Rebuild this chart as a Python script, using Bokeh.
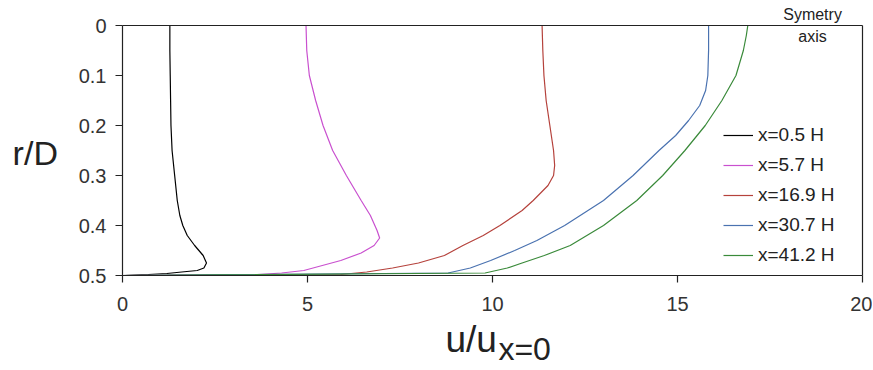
from bokeh.plotting import figure
from bokeh.models import Range1d, FixedTicker, Label, Legend, LegendItem, LinearAxis
from bokeh.embed import file_html
from bokeh.resources import INLINE

# ---- data: radial position r/D and velocity ratio u/u_x=0 ----
r_black = [0, 0.05, 0.1, 0.15, 0.2, 0.25, 0.3, 0.35, 0.38, 0.40, 0.42, 0.44, 0.46, 0.475, 0.485, 0.49, 0.493, 0.496, 0.498, 0.5]
u_black = [1.28, 1.28, 1.29, 1.30, 1.31, 1.34, 1.41, 1.48, 1.55, 1.63, 1.75, 1.95, 2.18, 2.27, 2.2, 2.02, 1.6, 1.2, 0.7, 0]

r_magenta = [0, 0.05, 0.1, 0.15, 0.2, 0.25, 0.3, 0.35, 0.38, 0.41, 0.425, 0.44, 0.455, 0.47, 0.48, 0.49, 0.495, 0.499, 0.5]
u_magenta = [4.96, 4.98, 5.05, 5.22, 5.42, 5.68, 6.05, 6.45, 6.7, 6.88, 6.95, 6.8, 6.45, 5.9, 5.4, 4.9, 4.3, 3.5, 0]

r_red = [0, 0.05, 0.1, 0.15, 0.2, 0.25, 0.28, 0.3, 0.32, 0.335, 0.35, 0.37, 0.4, 0.42, 0.44, 0.46, 0.475, 0.485, 0.493, 0.498, 0.5]
u_red = [11.34, 11.36, 11.39, 11.45, 11.55, 11.65, 11.68, 11.65, 11.5, 11.3, 11.1, 10.8, 10.2, 9.75, 9.2, 8.7, 8.0, 7.3, 6.6, 5.9, 0]

r_blue = [0, 0.05, 0.1, 0.13, 0.16, 0.19, 0.22, 0.25, 0.3, 0.35, 0.4, 0.43, 0.45, 0.47, 0.485, 0.495, 0.5]
u_blue = [15.84, 15.84, 15.82, 15.76, 15.6, 15.3, 14.95, 14.5, 13.8, 13.0, 11.95, 11.2, 10.6, 9.95, 9.4, 8.8, 0]

r_green = [0, 0.02, 0.05, 0.1, 0.15, 0.2, 0.25, 0.3, 0.35, 0.4, 0.44, 0.46, 0.475, 0.485, 0.495, 0.5]
u_green = [16.9, 16.86, 16.78, 16.58, 16.2, 15.75, 15.2, 14.6, 13.9, 13.0, 12.1, 11.4, 10.8, 10.4, 9.8, 0]

series_names = ["x=0.5 H", "x=5.7 H", "x=16.9 H", "x=30.7 H", "x=41.2 H"]
series_colors = ["#000000", "#c950cf", "#b5423c", "#4a72b0", "#3a8a3a"]

x_ticks = [0, 5, 10, 15, 20]
y_ticks = [0, 0.1, 0.2, 0.3, 0.4, 0.5]
y_tick_labels = ["0", "0.1", "0.2", "0.3", "0.4", "0.5"]
x_min, x_max = 0, 20
r_min, r_max = 0, 0.5

FONT = "Liberation Sans"
AX = "#222222"
W, H = 872, 369
PX_X = 37.0     # pixels per unit of u/u0
PX_Y = 500.0    # pixels per unit of r/D
LEFT, TOP = 122, 25

# the frame fills the whole canvas; axes are pinned at data locations
p = figure(width=W, height=H, output_backend="svg", toolbar_location=None,
           x_range=Range1d(-LEFT / PX_X, (W - LEFT) / PX_X),
           y_range=Range1d((H - TOP) / PX_Y, -TOP / PX_Y),
           min_border=0, min_border_left=0, min_border_right=0,
           min_border_top=0, min_border_bottom=0)

p.xgrid.visible = False
p.ygrid.visible = False
p.outline_line_color = None
p.background_fill_color = "white"
p.border_fill_color = "white"

def style_axis(ax):
    ax.axis_line_color = AX
    ax.axis_line_width = 1.2
    ax.major_tick_line_color = AX
    ax.major_tick_line_width = 1.2
    ax.major_tick_out = 7
    ax.major_tick_in = 0
    ax.minor_tick_line_color = None
    ax.major_label_text_font = FONT
    ax.major_label_text_font_size = "20px"
    ax.major_label_text_color = "#333333"

xa = p.xaxis[0]
ya = p.yaxis[0]
style_axis(xa)
style_axis(ya)
xa.fixed_location = r_max
xa.bounds = (x_min, x_max)
xa.ticker = FixedTicker(ticks=x_ticks)
xa.major_label_standoff = 14
ya.fixed_location = x_min
ya.bounds = (r_min, r_max)
ya.ticker = FixedTicker(ticks=y_ticks)
ya.major_label_overrides = {t: l for t, l in zip(y_ticks, y_tick_labels)}
ya.major_label_standoff = 9

# top and right edges of the plot box
top_ax = LinearAxis(fixed_location=r_min, bounds=(x_min, x_max), ticker=FixedTicker(ticks=[]),
                    axis_line_color=AX, axis_line_width=1.2, major_label_text_font_size="0px",
                    major_tick_line_color=None, minor_tick_line_color=None)
right_ax = LinearAxis(fixed_location=x_max, bounds=(r_min, r_max), ticker=FixedTicker(ticks=[]),
                      axis_line_color=AX, axis_line_width=1.2, major_label_text_font_size="0px",
                      major_tick_line_color=None, minor_tick_line_color=None)
p.add_layout(top_ax, "above")
p.add_layout(right_ax, "right")

all_r = [r_black, r_magenta, r_red, r_blue, r_green]
all_u = [u_black, u_magenta, u_red, u_blue, u_green]
items = []
for name, color, rr, uu in zip(series_names, series_colors, all_r, all_u):
    rend = p.line(uu, rr, line_color=color, line_width=1.2)
    items.append(LegendItem(label=name, renderers=[rend]))

legend = Legend(items=items, location=(723, H - 270), padding=0, margin=0,
                border_line_color=None, background_fill_alpha=0,
                glyph_width=30, glyph_height=30, label_height=30, spacing=0,
                label_standoff=5, label_text_font=FONT, label_text_font_size="19px",
                label_text_color="#222222")
p.add_layout(legend, "center")

# axis titles and annotation
p.add_layout(Label(x=-2.97, y=0.254, text="r/D", text_font=FONT, text_font_size="34px",
                   text_color="#222222", text_align="left", text_baseline="alphabetic"))
p.add_layout(Label(x=8.73, y=0.628, text="u/u", text_font=FONT, text_font_size="37px",
                   text_color="#222222", text_align="left", text_baseline="alphabetic"))
p.add_layout(Label(x=10.16, y=0.647, text="x=0", text_font=FONT, text_font_size="32px",
                   text_color="#222222", text_align="left", text_baseline="alphabetic"))
p.add_layout(Label(x=18.65, y=-0.022, text="Symetry", text_font=FONT, text_font_size="16px",
                   text_color="#222222", text_align="center", text_baseline="alphabetic"))
p.add_layout(Label(x=18.65, y=0.022, text="axis", text_font=FONT, text_font_size="16px",
                   text_color="#222222", text_align="center", text_baseline="alphabetic"))

open("out.html", "w").write(file_html(p, INLINE))
